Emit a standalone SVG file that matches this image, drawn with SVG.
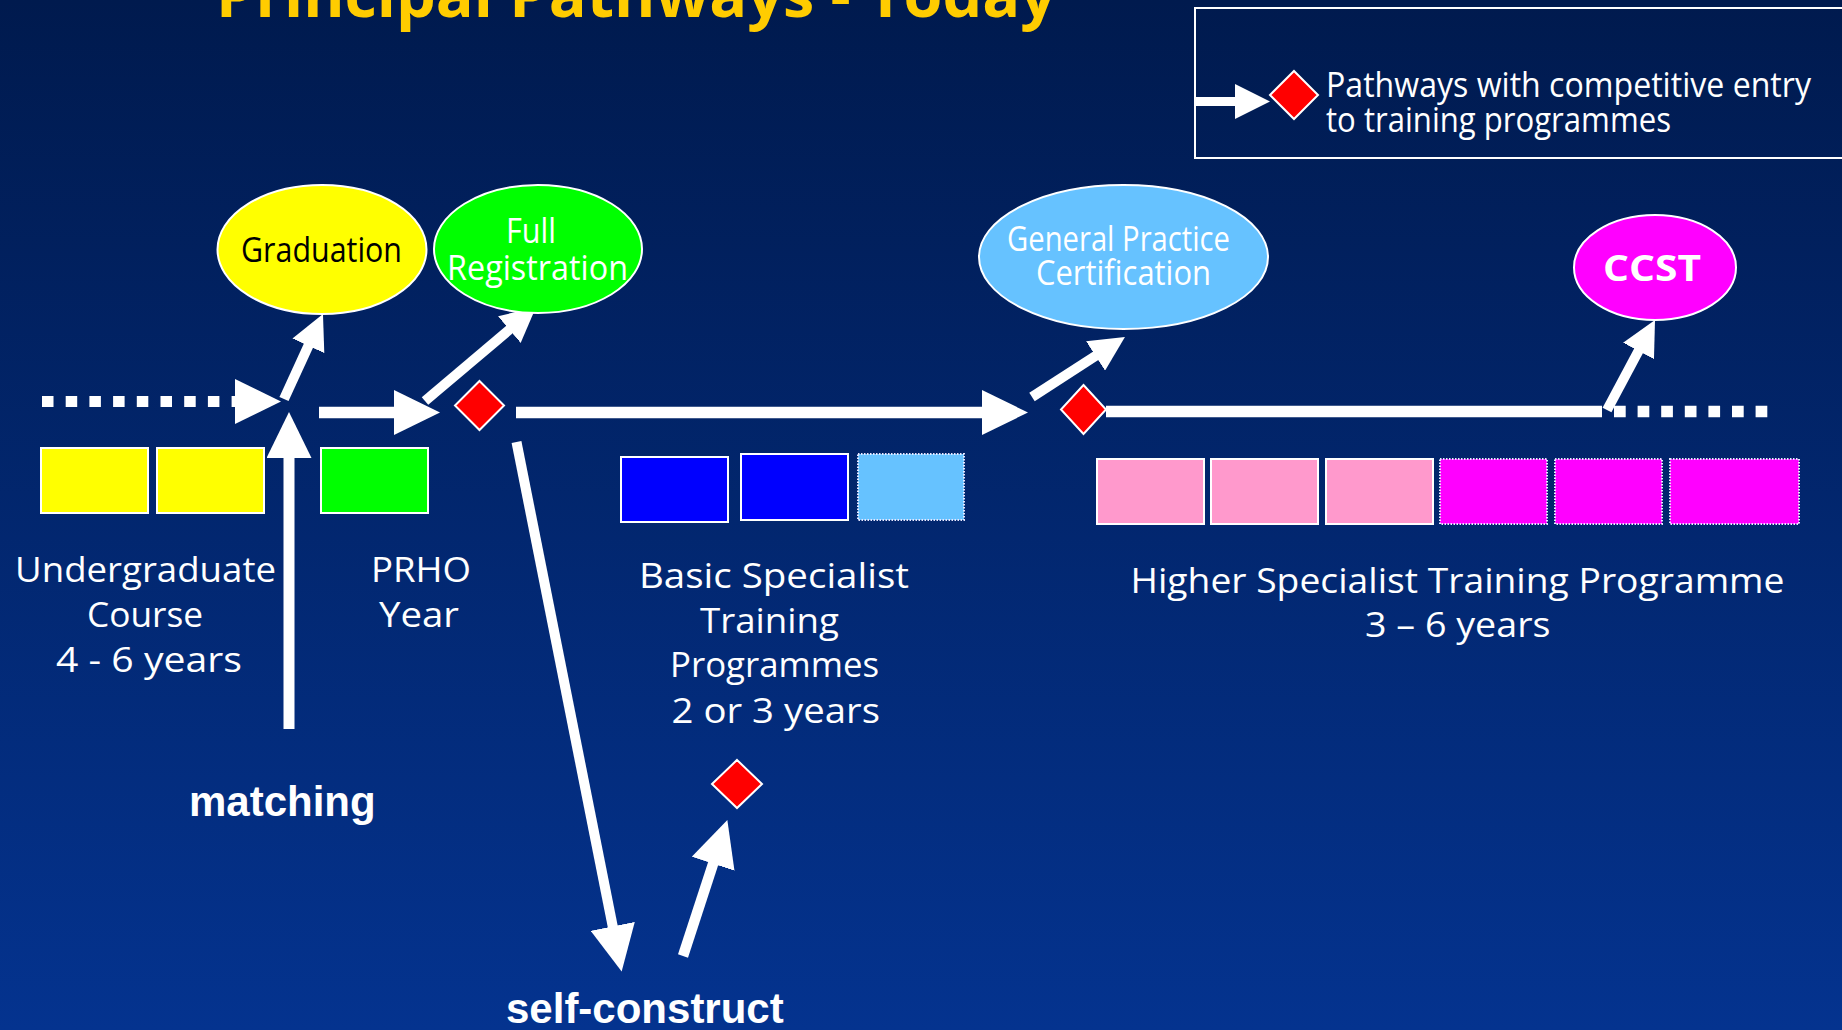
<svg xmlns="http://www.w3.org/2000/svg" width="1842" height="1030" viewBox="0 0 1842 1030">
<defs>
<linearGradient id="bg" x1="0" y1="0" x2="0" y2="1">
<stop offset="0" stop-color="#001a4e"/>
<stop offset="1" stop-color="#04338f"/>
</linearGradient>
<marker id="headL" viewBox="-1 -22.5 47 45" markerWidth="47" markerHeight="45" refX="0" refY="0" markerUnits="userSpaceOnUse" orient="auto">
<path d="M-1,-22.5 L45,0 L-1,22.5 z" fill="#fff"/>
</marker>
<marker id="headS" viewBox="-1 -17.5 36 35" markerWidth="36" markerHeight="35" refX="0" refY="0" markerUnits="userSpaceOnUse" orient="auto">
<path d="M-1,-17.5 L34,0 L-1,17.5 z" fill="#fff"/>
</marker>
</defs>
<style>
.cs{font-family:"Open Sans","Noto Sans","DejaVu Sans",sans-serif;fill:#fff;font-size:35px}
.ar{font-family:"Liberation Sans",Arial,sans-serif;font-weight:bold;fill:#fff;font-size:42px}
.el{stroke:#fff;stroke-width:2}
.box{stroke:#fff;stroke-width:2}
.dot{stroke:#e8e8ff;stroke-width:2;stroke-dasharray:1.5 1.5}
.dia{fill:#ff0000;stroke:#fff;stroke-width:2}
.ln{stroke:#fff;fill:none;stroke-linecap:butt}
</style>
<rect x="0" y="0" width="1842" height="1030" fill="url(#bg)"/>

<g id="title">
<text x="216" y="17" font-family="Open Sans, Noto Sans, sans-serif" font-weight="bold" font-size="60" fill="#ffcc00" textLength="840" lengthAdjust="spacingAndGlyphs">Principal Pathways - Today</text>
</g>

<g id="legend">
<rect x="1195" y="8" width="660" height="150" fill="none" stroke="#fff" stroke-width="2"/>
<line class="ln" x1="1195" y1="101.5" x2="1236" y2="101.5" stroke-width="9" marker-end="url(#headS)"/>
<polygon class="dia" points="1294,71 1318,95 1294,119 1270,95"/>
<text class="cs" x="1326" y="97" font-size="30" textLength="485" lengthAdjust="spacingAndGlyphs">Pathways with competitive entry</text>
<text class="cs" x="1326" y="132" font-size="30" textLength="345" lengthAdjust="spacingAndGlyphs">to training programmes</text>
</g>

<g id="connectors">
<line class="ln" x1="42" y1="401.5" x2="236" y2="401.5" stroke-width="11" stroke-dasharray="11.5 12.2" marker-end="url(#headL)"/>
<line class="ln" x1="284" y1="399" x2="308.8" y2="344.9" stroke-width="10" marker-end="url(#headS)"/>
<line class="ln" x1="319" y1="412.5" x2="395" y2="412.5" stroke-width="11.5" marker-end="url(#headL)"/>
<line class="ln" x1="425" y1="401" x2="510.1" y2="329" stroke-width="10" marker-end="url(#headS)"/>
<line class="ln" x1="516" y1="412.5" x2="983" y2="412.5" stroke-width="11.5" marker-end="url(#headL)"/>
<line class="ln" x1="1032" y1="397" x2="1096.4" y2="355.4" stroke-width="10" marker-end="url(#headS)"/>
<line class="ln" x1="1106" y1="411.5" x2="1602" y2="411.5" stroke-width="11.5"/>
<line class="ln" x1="1614" y1="411.5" x2="1768" y2="411.5" stroke-width="11.5" stroke-dasharray="11.7 11.9"/>
<line class="ln" x1="1607" y1="410" x2="1639" y2="350" stroke-width="10" marker-end="url(#headS)"/>
<line class="ln" x1="289" y1="729" x2="289" y2="457" stroke-width="11" marker-end="url(#headL)"/>
<line class="ln" x1="516.5" y1="442" x2="612.9" y2="927.3" stroke-width="10" marker-end="url(#headL)"/>
<line class="ln" x1="683" y1="956" x2="713.4" y2="862.8" stroke-width="10.5" marker-end="url(#headL)"/>
</g>

<g id="graduation">
<ellipse class="el" cx="322" cy="249.5" rx="104.5" ry="64.5" fill="#ffff00"/>
<text class="cs" x="241" y="262" font-size="32" style="fill:#000" textLength="161" lengthAdjust="spacingAndGlyphs">Graduation</text>
</g>

<g id="full-registration">
<ellipse class="el" cx="538" cy="249" rx="104" ry="64" fill="#00ff00"/>
<text class="cs" x="506" y="243" font-size="32" textLength="50" lengthAdjust="spacingAndGlyphs">Full</text>
<text class="cs" x="447" y="280" font-size="32" textLength="181" lengthAdjust="spacingAndGlyphs">Registration</text>
</g>

<g id="gp-certification">
<ellipse class="el" cx="1123.5" cy="257" rx="144.5" ry="72" fill="#66c2ff"/>
<text class="cs" x="1007" y="250.5" font-size="29" textLength="223" lengthAdjust="spacingAndGlyphs">General Practice</text>
<text class="cs" x="1036" y="285" font-size="29" textLength="175" lengthAdjust="spacingAndGlyphs">Certification</text>
</g>

<g id="ccst">
<ellipse class="el" cx="1655" cy="267.5" rx="81" ry="52.5" fill="#ff00ff"/>
<text class="cs" x="1603" y="281" font-size="39" font-weight="bold" textLength="98" lengthAdjust="spacingAndGlyphs">CCST</text>
</g>

<g id="diamond-prho">
<polygon class="dia" points="479.5,381 504,405.5 479.5,430 455,405.5"/>
</g>
<g id="diamond-gp">
<polygon class="dia" points="1083.5,385 1106,409.5 1083.5,434 1061,409.5"/>
</g>
<g id="diamond-bst">
<polygon class="dia" points="737,760 762,784 737,808 712,784"/>
</g>

<g id="undergraduate">
<rect class="box" x="41" y="448" width="107" height="65" fill="#ffff00"/>
<rect class="box" x="157" y="448" width="107" height="65" fill="#ffff00"/>
<text class="cs" x="15" y="582" textLength="261" lengthAdjust="spacingAndGlyphs">Undergraduate</text>
<text class="cs" x="87" y="627" textLength="116" lengthAdjust="spacingAndGlyphs">Course</text>
<text class="cs" x="56" y="672" textLength="186" lengthAdjust="spacingAndGlyphs">4 - 6 years</text>
</g>

<g id="prho">
<rect class="box" x="321" y="448" width="107" height="65" fill="#00ff00"/>
<text class="cs" x="371" y="582" textLength="100" lengthAdjust="spacingAndGlyphs">PRHO</text>
<text class="cs" x="379" y="627" textLength="80" lengthAdjust="spacingAndGlyphs">Year</text>
</g>

<g id="basic-specialist">
<rect class="box" x="621" y="457" width="107" height="65" fill="#0000ff"/>
<rect class="box" x="741" y="454" width="107" height="66" fill="#0000ff"/>
<rect class="dot" x="858" y="454" width="106" height="66" fill="#66c2ff"/>
<text class="cs" x="639" y="588" textLength="270" lengthAdjust="spacingAndGlyphs">Basic Specialist</text>
<text class="cs" x="700" y="633" textLength="139" lengthAdjust="spacingAndGlyphs">Training</text>
<text class="cs" x="670" y="677" textLength="209" lengthAdjust="spacingAndGlyphs">Programmes</text>
<text class="cs" x="671.5" y="723" textLength="208.5" lengthAdjust="spacingAndGlyphs">2 or 3 years</text>
</g>

<g id="higher-specialist">
<rect class="box" x="1097" y="459" width="107" height="65" fill="#ff99cc"/>
<rect class="box" x="1211" y="459" width="107" height="65" fill="#ff99cc"/>
<rect class="box" x="1326" y="459" width="107" height="65" fill="#ff99cc"/>
<rect class="dot" x="1440" y="459" width="107" height="65" fill="#ff00ff"/>
<rect class="dot" x="1555" y="459" width="107" height="65" fill="#ff00ff"/>
<rect class="dot" x="1670" y="459" width="129" height="65" fill="#ff00ff"/>
<text class="cs" x="1130.5" y="593" textLength="654" lengthAdjust="spacingAndGlyphs">Higher Specialist Training Programme</text>
<text class="cs" x="1365" y="637" textLength="185.5" lengthAdjust="spacingAndGlyphs">3 – 6 years</text>
</g>

<g id="matching">
<text class="ar" x="189" y="816">matching</text>
</g>
<g id="self-construct">
<text class="ar" x="506" y="1023">self-construct</text>
</g>
</svg>
